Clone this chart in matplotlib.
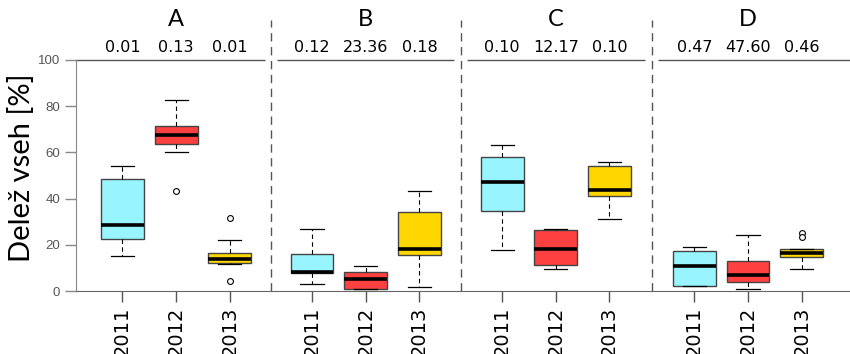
import matplotlib
matplotlib.use("Agg")
import matplotlib.pyplot as plt

groups = ["A", "B", "C", "D"]
years = ["2011", "2012", "2013"]
top_values = [["0.01", "0.13", "0.01"],
              ["0.12", "23.36", "0.18"],
              ["0.10", "12.17", "0.10"],
              ["0.47", "47.60", "0.46"]]

# box stats per group, per year: (whislo, q1, med, q3, whishi)
stats_A = [(15.3, 22.4, 28.6, 48.5, 54.2),
           (60.3, 63.8, 67.7, 71.6, 82.5),
           (11.5, 12.3, 14.0, 16.5, 21.9)]
stats_B = [(3.2, 7.7, 8.1, 16.1, 26.7),
           (0.9, 0.9, 5.2, 8.1, 11.0),
           (1.6, 15.6, 18.3, 34.1, 43.4)]
stats_C = [(17.7, 34.5, 47.3, 58.1, 63.3),
           (9.7, 11.1, 18.2, 26.4, 27.0),
           (31.3, 41.3, 43.6, 54.2, 56.0)]
stats_D = [(2.3, 2.3, 10.8, 17.2, 19.0),
           (0.9, 3.8, 7.1, 13.1, 24.4),
           (9.7, 14.6, 16.3, 18.0, 18.0)]
outliers_A = [[], [43.2], [31.7, 4.3]]
outliers_B = [[], [], []]
outliers_C = [[], [], []]
outliers_D = [[], [], [25.0, 23.2]]

all_stats = [stats_A, stats_B, stats_C, stats_D]
all_out = [outliers_A, outliers_B, outliers_C, outliers_D]
colors = ["#98F5FF", "#FF4040", "#FFD700"]
group_offsets = [0.0, 3.53, 7.07, 10.65]

fig = plt.figure(figsize=(8.5, 3.54), dpi=100)
ax = fig.add_axes([76/850, 1-291/354, 1-76/850, (291-60)/354])

positions, labels = [], []
for g, (gs, go, off) in enumerate(zip(all_stats, all_out, group_offsets)):
    bx = []
    pos = [1 + off + i for i in range(3)]
    for (lo, q1, med, q3, hi), fl in zip(gs, go):
        bx.append(dict(whislo=lo, q1=q1, med=med, q3=q3, whishi=hi, fliers=fl))
    res = ax.bxp(bx, positions=pos, widths=0.8, patch_artist=True,
                 boxprops=dict(edgecolor="#444444", linewidth=1.0),
                 medianprops=dict(color="black", linewidth=2.6),
                 whiskerprops=dict(color="black", linewidth=0.8, linestyle=(0, (4, 3))),
                 capprops=dict(color="black", linewidth=0.9),
                 capwidths=0.43,
                 flierprops=dict(marker="o", markerfacecolor="white",
                                 markeredgecolor="black", markersize=4.2, markeredgewidth=0.8))
    for patch, c in zip(res["boxes"], colors):
        patch.set_facecolor(c)
    positions += pos
    labels += years
    for p, t in zip(pos, top_values[g]):
        ax.text(p, 105.6, t, ha="center", va="center", fontsize=11.5,
                family="DejaVu Sans", clip_on=False)
    ax.text(pos[1], 117.5, groups[g], ha="center", va="center", fontsize=17,
            family="Lato", clip_on=False)

xmin, xmax = 0.134, 14.55
ax.set_xlim(xmin, xmax)
ax.set_ylim(0, 100)

seps = []
for g in range(3):
    last = 1 + group_offsets[g] + 2
    first = 1 + group_offsets[g + 1]
    seps.append((last + first) / 2)
for s in seps:
    ax.plot([s, s], [0, 117.5], color="#555555", linewidth=1.0,
            linestyle=(0, (6, 4)), clip_on=False)

bounds = [xmin] + [v for s in seps for v in (s - 0.12, s + 0.12)] + [xmax]
for i in range(0, len(bounds), 2):
    ax.plot([bounds[i], bounds[i + 1]], [100, 100], color="#555555",
            linewidth=1.0, clip_on=False, solid_capstyle="butt")

for sp in ["top", "right"]:
    ax.spines[sp].set_visible(False)
ax.spines["left"].set_color("#888888")
ax.spines["bottom"].set_color("#666666")

ax.set_yticks([0, 20, 40, 60, 80, 100])
ax.tick_params(axis="y", colors="#888888", length=8, width=1, labelsize=9.5,
               labelcolor="#555555")
for t in ax.get_yticklabels():
    t.set_family("Liberation Sans")
ax.set_xticks(positions)
ax.set_xticklabels(labels, rotation=90, fontsize=14, family="DejaVu Sans")
ax.tick_params(axis="x", colors="#555555", length=8, width=1, labelcolor="black", pad=3)

fig.text(22/850, 1 - 168/354, "Delež vseh [%]", rotation=90, ha="center",
         va="center", fontsize=21, family="Lato")

fig.savefig("out.png", dpi=100)
